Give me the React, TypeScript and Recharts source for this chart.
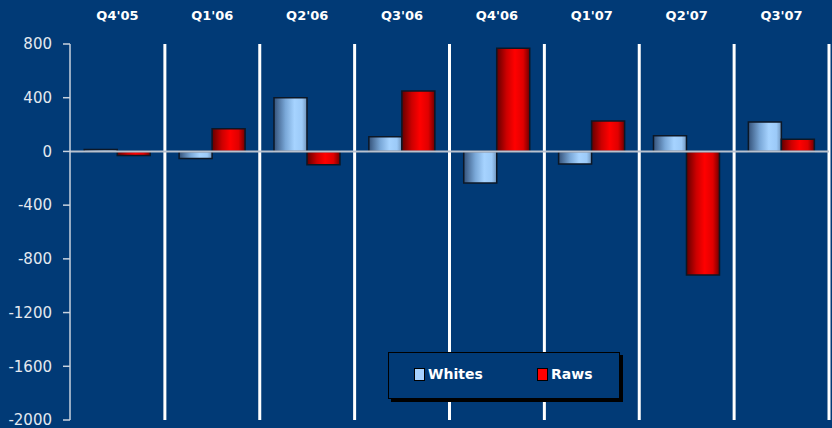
import React from 'react';
import { BarChart, Bar, XAxis, YAxis, CartesianGrid, ReferenceLine, Legend } from 'recharts';

const quarters = ["Q4'05", "Q1'06", "Q2'06", "Q3'06", "Q4'06", "Q1'07", "Q2'07", "Q3'07"];
const whites = [15, -52, 400, 110, -235, -94, 116, 220];
const raws = [-30, 168, -100, 450, 768, 227, -921, 91];
const yTicks = [-2000, -1600, -1200, -800, -400, 0, 400, 800];
const seriesNames = ['Whites', 'Raws'];

const data = quarters.map((q, i) => ({ quarter: q, Whites: whites[i], Raws: raws[i] }));

const BG = '#013a76';
const FONT = '"DejaVu Sans", Verdana, sans-serif';

const LegendBox = ({ payload }: any) => {
  const items = [...(payload || [])].sort(
    (a: any, b: any) => seriesNames.indexOf(a.value) - seriesNames.indexOf(b.value)
  );
  return (
    <div
      style={{
        width: 232,
        height: 47,
        boxSizing: 'border-box',
        background: BG,
        border: '1.5px solid #000',
        boxShadow: '3px 3px 0 #000',
        position: 'relative',
        fontFamily: FONT,
      }}
    >
      {items.map((p: any, i: number) => (
        <div
          key={p.value}
          style={{
            position: 'absolute',
            left: i === 0 ? 25 : 148,
            top: 13,
            display: 'flex',
            alignItems: 'center',
            color: '#fff',
            fontWeight: 'bold',
            fontSize: 14,
          }}
        >
          <span
            style={{
              display: 'inline-block',
              width: 9,
              height: 11,
              background: p.value === 'Whites' ? '#a6d2ff' : '#ff0000',
              border: '1px solid #000',
              marginRight: 3,
            }}
          />
          {p.value}
        </div>
      ))}
    </div>
  );
};

export default function App() {
  return (
    <div style={{ position: 'absolute', left: 0, top: 0, width: 832, height: 428, background: BG }}>
      <BarChart
        width={832}
        height={428}
        data={data}
        margin={{ top: 0, right: 3, bottom: 8, left: 0 }}
        barCategoryGap="15%"
        barGap={0}
      >
        <defs>
          <linearGradient id="gWhites" x1="0" y1="0" x2="1" y2="0">
            <stop offset="0%" stopColor="#34527a" />
            <stop offset="35%" stopColor="#7aa8d8" />
            <stop offset="62%" stopColor="#a6d3ff" />
            <stop offset="85%" stopColor="#9ccaf8" />
            <stop offset="100%" stopColor="#6f94bc" />
          </linearGradient>
          <linearGradient id="gRaws" x1="0" y1="0" x2="1" y2="0">
            <stop offset="0%" stopColor="#620000" />
            <stop offset="30%" stopColor="#cc0000" />
            <stop offset="55%" stopColor="#ff0000" />
            <stop offset="80%" stopColor="#e00000" />
            <stop offset="100%" stopColor="#700000" />
          </linearGradient>
        </defs>
        <CartesianGrid
          horizontal={false}
          vertical
          stroke="#ffffff"
          strokeWidth={3}
          verticalCoordinatesGenerator={({ offset }: any) =>
            Array.from({ length: 8 }, (_, i) => offset.left + ((i + 1) * offset.width) / 8)
          }
        />
        <XAxis
          dataKey="quarter"
          orientation="top"
          height={44}
          axisLine={false}
          tickLine={false}
          tickSize={0}
          tickMargin={24}
          interval={0}
          tick={{ fill: '#ffffff', fontSize: 13, fontWeight: 'bold', fontFamily: FONT }}
        />
        <YAxis
          width={70}
          domain={[-2000, 800]}
          ticks={yTicks}
          interval={0}
          axisLine={{ stroke: '#c9d2de', strokeWidth: 1.5 }}
          tickLine={{ stroke: '#c9d2de', strokeWidth: 1.5 }}
          tickSize={7}
          tickMargin={11}
          tick={{ fill: '#e4e9f0', fontSize: 15, fontFamily: FONT }}
        />
        <Bar dataKey="Whites" fill="url(#gWhites)" stroke="#0c1726" strokeWidth={1.5} isAnimationActive={false} />
        <Bar dataKey="Raws" fill="url(#gRaws)" stroke="#0c1726" strokeWidth={1.5} isAnimationActive={false} />
        <ReferenceLine y={0} stroke="#b9c2cf" strokeWidth={2} />
        <Legend
          layout="horizontal"
          verticalAlign="middle"
          align="center"
          content={<LegendBox />}
          wrapperStyle={{ position: 'absolute', left: 388, top: 352, width: 232, height: 47 }}
        />
      </BarChart>
    </div>
  );
}
